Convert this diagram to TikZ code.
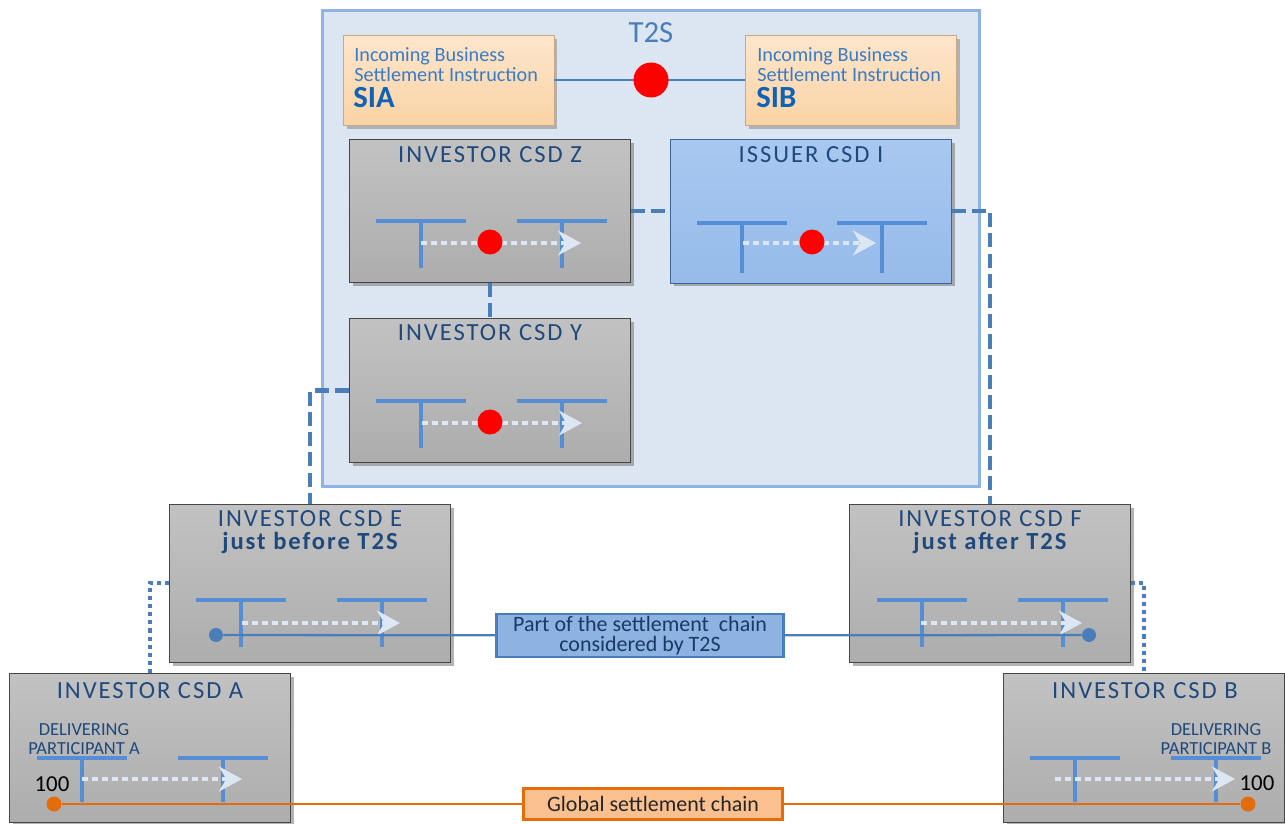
\documentclass[tikz,border=0pt]{standalone}
\usepackage{fontspec}
\setmainfont{Carlito}
\newfontfamily\ttlfont[LetterSpace=8]{Carlito}
\usetikzlibrary{arrows.meta,shadows}
\definecolor{boxgray}{HTML}{ADADAD}
\definecolor{boxtop}{HTML}{C2C2C2}
\definecolor{issfill}{HTML}{96BBEA}
\definecolor{isstop}{HTML}{A8C8F0}
\definecolor{ttlblue}{HTML}{1F497D}
\definecolor{tblue}{HTML}{558ED5}
\definecolor{lnblue}{HTML}{4A7EBB}
\definecolor{t2sfill}{HTML}{DCE6F2}
\definecolor{t2sline}{HTML}{8DB4E2}
\definecolor{peach}{HTML}{FAD3A5}
\definecolor{peachtop}{HTML}{FDE6CB}
\definecolor{sitext}{HTML}{3A7BC8}
\definecolor{siname}{HTML}{0F62B5}
\definecolor{arrowfill}{HTML}{DDE7F3}
\definecolor{ornge}{HTML}{E46C0A}
\definecolor{ornfill}{HTML}{FAC090}
\definecolor{lblfill}{HTML}{8DB3E2}

\begin{document}
\begin{tikzpicture}[x=0.02cm,y=-0.02cm,
    csd/.style={draw=gray!55!black, top color=boxtop, bottom color=boxgray, minimum width=5.62cm, inner sep=0pt,
      drop shadow={shadow xshift=2pt, shadow yshift=-2pt, opacity=.6}},
    sibox/.style={draw=peach!80!black, top color=peachtop, bottom color=peach, minimum width=4.22cm, minimum height=1.8cm,
      drop shadow={shadow xshift=2pt, shadow yshift=-2pt, opacity=.5}},
    ttl/.style={text=ttlblue, font=\ttlfont\fontsize{14}{16}\selectfont, inner sep=0pt},
    sub/.style={ttl, font=\ttlfont\fontsize{14}{16}\selectfont\bfseries, anchor=base},
    sitxt/.style={text=sitext, font=\fontsize{11.5}{12}\selectfont, inner sep=0pt, anchor=base west},
    tbar/.style={tblue, line width=2.3pt},
    flow/.style={arrowfill, line width=2.3pt, dash pattern=on 3.4pt off 2.3pt, -{Stealth[length=13pt,width=14pt,inset=4pt]}},
    hit/.style={circle, fill=red, inner sep=0pt, minimum size=0.5cm},
    chaindot/.style={circle, inner sep=0pt, minimum size=0.28cm},
    dashcon/.style={lnblue, line width=2.3pt, dash pattern=on 8pt off 3.5pt},
    dotcon/.style={lnblue, line width=2.3pt, dash pattern=on 2.3pt off 2.3pt}]
\useasboundingbox (0,0) rectangle (1285,824);

% T2S platform
\node[draw=t2sline, fill=t2sfill, line width=1.7pt, minimum width=13.14cm, minimum height=9.54cm] (t2s) at (651,248.5) {};
\node[text=lnblue, font=\fontsize{17.5}{20}\selectfont, inner sep=0pt] (t2sT) at (651,33) {T2S};

% boxes
\node[csd, minimum height=2.86cm] (zbox) at (490,211) {};
\node[csd, minimum height=2.88cm, top color=isstop, bottom color=issfill, draw=lnblue!80!black] (ibox) at (811,211) {};
\node[csd, minimum height=2.88cm] (ybox) at (490,390.5) {};
\node[csd, minimum height=3.16cm] (ebox) at (310,583) {};
\node[csd, minimum height=3.16cm] (fbox) at (990,583) {};
\node[csd, minimum height=2.98cm] (abox) at (150,748) {};
\node[csd, minimum height=2.98cm] (bbox) at (1144,748) {};

% links between CSDs
\draw[dashcon] (zbox.east) -- (ibox.west);
\draw[dashcon] (ibox.east) -| (fbox.north);
\draw[dashcon] (zbox.south) -- (ybox.north);
\draw[dashcon] (ybox.west) -| (ebox.north);
\draw[dotcon] (ebox.west) -| (abox.north);
\draw[dotcon] (fbox.east) -| (bbox.north);

% incoming instructions
\node[sibox] (sia) at (448.5,80) {};
\node[sibox] (sib) at (851,80) {};
\draw[lnblue, line width=0.8pt] (sia.east) -- (sib.west);
\node[hit, minimum size=0.7cm] (match) at (651,80) {};
\node[sitxt] (siaL1) at (354,62) {Incoming Business};
\node[sitxt] (siaL2) at (354,82) {Settlement Instruction};
\node[sitxt, text=siname, font=\fontsize{17.5}{20}\selectfont\bfseries] (siaN) at (353,108) {SIA};
\node[sitxt] (sibL1) at (757,62) {Incoming Business};
\node[sitxt] (sibL2) at (757,82) {Settlement Instruction};
\node[sitxt, text=siname, font=\fontsize{17.5}{20}\selectfont\bfseries] (sibN) at (756,108) {SIB};

% titles
\node[ttl] (zT) at (490,155) {INVESTOR CSD Z};
\node[ttl] (iT) at (811,155) {ISSUER CSD I};
\node[ttl] (yT) at (490,333) {INVESTOR CSD Y};
\node[ttl] (eT) at (310,519) {INVESTOR CSD E};
\node[sub] (eS) at (310,549) {just before T2S};
\node[ttl] (fT) at (990,519) {INVESTOR CSD F};
\node[sub] (fS) at (990,549) {just after T2S};
\node[ttl] (aT) at (150,691) {INVESTOR CSD A};
\node[ttl] (bT) at (1145,691) {INVESTOR CSD B};
\node[text=ttlblue, font=\fontsize{10.5}{10.8}\selectfont, align=center, inner sep=0pt] (aP) at (84,739) {DELIVERING\\PARTICIPANT A};
\node[text=ttlblue, font=\fontsize{10.5}{10.8}\selectfont, align=center, inner sep=0pt] (bP) at (1216,739) {DELIVERING\\PARTICIPANT B};
\node[font=\fontsize{13}{15}\selectfont, inner sep=0pt] (aQ) at (52,784) {100};
\node[font=\fontsize{13}{15}\selectfont, inner sep=0pt] (bQ) at (1257,783) {100};

% accounts
\draw[tbar] (376,221) -- (466,221) (421,221) -- (421,268);
\draw[tbar] (517,221) -- (607,221) (562,221) -- (562,268);
\draw[tbar] (697,223) -- (787,223) (742,223) -- (742,273);
\draw[tbar] (837,223) -- (927,223) (882,223) -- (882,273);
\draw[tbar] (376,401) -- (466,401) (421,401) -- (421,448);
\draw[tbar] (517,401) -- (607,401) (562,401) -- (562,448);
\draw[tbar] (196,600) -- (286,600) (241,600) -- (241,647);
\draw[tbar] (337,600) -- (427,600) (382,600) -- (382,647);
\draw[tbar] (877,600) -- (967,600) (922,600) -- (922,647);
\draw[tbar] (1018,600) -- (1108,600) (1063,600) -- (1063,647);
\draw[tbar] (37,758) -- (127,758) (82,758) -- (82,802);
\draw[tbar] (178,758) -- (268,758) (223,758) -- (223,802);
\draw[tbar] (1030,758) -- (1120,758) (1075,758) -- (1075,802);
\draw[tbar] (1171,758) -- (1261,758) (1216,758) -- (1216,802);

% movements
\draw[flow] (421,243) -- (581,243);
\draw[flow] (743,243) -- (876,243);
\draw[flow] (422,423) -- (582,423);
\draw[flow] (242,623) -- (400,623);
\draw[flow] (921,623) -- (1082,623);
\draw[flow] (82,779) -- (242,779);
\draw[flow] (1055,779) -- (1235,779);
\node[hit] (zhit) at (490,242) {};
\node[hit] (ihit) at (812,242) {};
\node[hit] (yhit) at (490,422) {};

% settlement chains
\node[chaindot, fill=lnblue] (dotE) at (216,635) {};
\node[chaindot, fill=lnblue] (dotF) at (1089,635) {};
\node[draw=lnblue, fill=lblfill, line width=1.3pt, minimum width=5.74cm, minimum height=0.86cm, inner sep=0pt, align=center,
  text=ttlblue!80!black, font=\fontsize{12.5}{11.5}\selectfont] (partT2S) at (640,635.5) {Part of the settlement\ \ chain\\considered by T2S};
\draw[lnblue, line width=1.3pt] (dotE) -- (partT2S) -- (dotF);
\node[chaindot, fill=ornge, minimum size=0.3cm] (dotA) at (54,804) {};
\node[chaindot, fill=ornge, minimum size=0.3cm] (dotB) at (1248,804) {};
\node[draw=ornge, fill=ornfill, line width=1.7pt, minimum width=5.18cm, minimum height=0.62cm, inner sep=0pt,
  text=black!85, font=\fontsize{12.5}{14}\selectfont] (global) at (653,804) {Global settlement chain};
\draw[ornge, line width=1.7pt] (dotA) -- (global) -- (dotB);
\end{tikzpicture}
\end{document}
